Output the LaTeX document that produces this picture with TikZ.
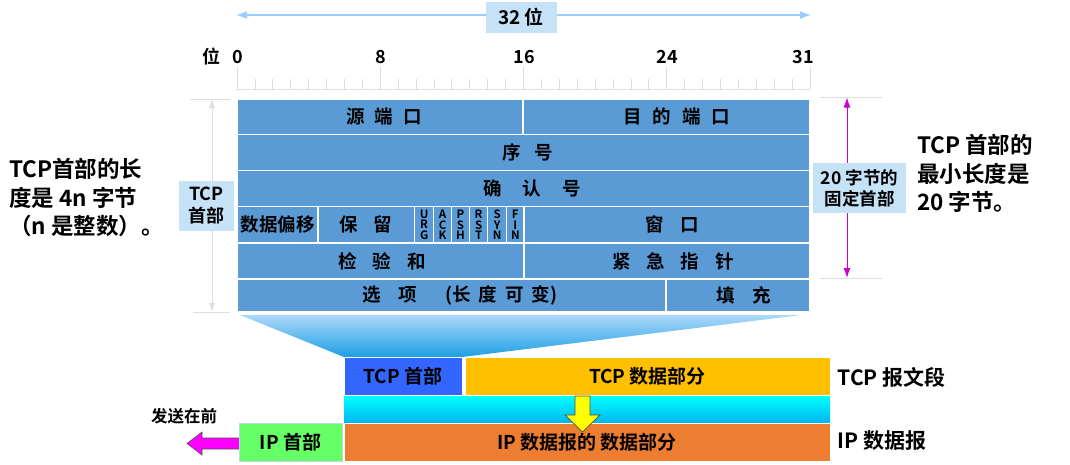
\documentclass[tikz,border=0pt]{standalone}
\usepackage{fontspec}
\setmainfont{Noto Sans CJK SC}[UprightFont={* Bold}]
\usetikzlibrary{arrows.meta}
\definecolor{cell}{RGB}{91,155,213}
\definecolor{lbl}{RGB}{197,226,247}
\definecolor{rul}{RGB}{222,222,222}
\definecolor{arrowblue}{RGB}{153,204,255}
\definecolor{tcph}{RGB}{51,102,255}
\definecolor{tcpd}{RGB}{255,192,0}
\definecolor{ipd}{RGB}{237,125,49}
\definecolor{iph}{RGB}{102,255,102}
\definecolor{mag}{RGB}{204,0,204}
\definecolor{brightmag}{RGB}{255,0,255}
\definecolor{yel}{RGB}{255,255,0}
\definecolor{cytop}{RGB}{0,255,255}
\definecolor{trtop}{RGB}{172,216,250}
\definecolor{trbot}{RGB}{28,160,228}
\definecolor{cybot}{RGB}{0,184,240}
\newcommand{\tg}[1]{\hspace{#1pt}}
\newcommand{\tcell}[5]{\node[cellbox, minimum width={#4-#2}, minimum height={#5-#3}] (#1) at ({(#2+#4)/2},{(#3+#5)/2}) {};}
\newcommand{\flagcell}[4]{\node[cellbox, minimum width={#3-#2}, minimum height=36.5] (#1) at ({(#2+#3)/2},224.75) {};
  \node[flagtxt] (#1t) at ({(#2+#3)/2},224.75) {#4};}
\tikzset{
  cellbox/.style={draw=white, line width=1.2pt, fill=cell, inner sep=0pt, outer sep=0pt},
  ctxt/.style={font=\fontsize{18.5}{20}\selectfont, inner sep=0pt},
  flagtxt/.style={font=\fontsize{11.5}{10.5}\selectfont, align=center, inner sep=0pt},
  lblbox/.style={fill=lbl, inner sep=0pt, align=center},
  rtick/.style={draw=rul, line width=0.8pt},
  seg/.style={draw=white, line width=1pt, inner sep=0pt, outer sep=0pt, font=\fontsize{19}{21}\selectfont},
  big/.style={font=\fontsize{22.5}{28.5}\selectfont, align=left, inner sep=0pt},
}
\begin{document}
\begin{tikzpicture}[x=1pt,y=-1pt]
\useasboundingbox (0,0) rectangle (1070,464);

% ---- 32-bit arrow
\coordinate (tl) at (236,15);
\coordinate (tr) at (811,15);
\draw[arrowblue, line width=1.5pt, {Latex[length=11pt,width=8pt]}-{Latex[length=11pt,width=8pt]}] (tl) -- (tr);
\node[lblbox, minimum width=71, minimum height=31, font=\fontsize{19}{21}\selectfont] (w32) at (521,17.5) {32 位};

% ---- ruler
\draw[rtick] (237,89) -- (810,89);
\foreach \i in {0,...,32}{
  \pgfmathsetmacro{\xx}{237+\i*17.90625}
  \pgfmathtruncatemacro{\mj}{mod(\i,8)==0}
  \ifnum\mj=1 \draw[rtick] (\xx,67) -- (\xx,89); \else \draw[rtick] (\xx,79) -- (\xx,89); \fi
}
\begin{scope}[font=\fontsize{18}{20}\selectfont]
\node (wei) at (211,57) {位};
\node (b0) at (238,57) {0};
\node (b8) at (381,57) {8};
\node (b16) at (524,57) {16};
\node (b24) at (667,57) {24};
\node (b31) at (803,57) {31};
\end{scope}

% ---- extension lines
\draw[rtick] (190,99) -- (230,99);
\draw[rtick] (193,312) -- (230,312);
\draw[rtick] (820,97) -- (882,97);
\draw[rtick] (820,278) -- (882,278);

% ---- left gray arrow
\coordinate (la) at (212,99);
\coordinate (lb) at (212,312);
\draw[rul, line width=1pt, {Latex[length=9pt,width=6pt]}-{Latex[length=9pt,width=6pt]}] (la) -- (lb);
\node[lblbox, minimum width=55, minimum height=50, font=\fontsize{18}{22}\selectfont] (tcphl) at (206.5,206) {TCP\\首部};

% ---- right magenta arrow
\coordinate (ra) at (847,97.5);
\coordinate (rb) at (847,278);
\draw[mag, line width=1pt, {Latex[length=10pt,width=7pt]}-{Latex[length=10pt,width=7pt]}] (ra) -- (rb);
\node[lblbox, minimum width=93, minimum height=50, font=\fontsize{17.5}{21}\selectfont] (fix20) at (859.5,188) {20 字节的\\固定首部};

% ---- side texts
\node[big, anchor=north west] (lefttxt) at (9,158) {TCP首部的长\\度是 4n 字节\\（n 是整数）。};
\node[big, anchor=north west] (righttxt) at (917,134) {TCP 首部的\\最小长度是\\20 字节。};

% ---- table
\tcell{src}{237}{99}{523}{134.5}
\tcell{dst}{523}{99}{810}{134.5}
\tcell{seq}{237}{134.5}{810}{170.5}
\tcell{ack}{237}{170.5}{810}{206.5}
\tcell{off}{237}{206.5}{318}{243}
\tcell{rsv}{318}{206.5}{414.5}{243}
\flagcell{urgf}{414.5}{433.8}{U\\R\\G}
\flagcell{ackf}{433.8}{451.5}{A\\C\\K}
\flagcell{pshf}{451.5}{469.6}{P\\S\\H}
\flagcell{rstf}{469.6}{487.7}{R\\S\\T}
\flagcell{synf}{487.7}{506.6}{S\\Y\\N}
\flagcell{finf}{506.6}{524}{F\\I\\N}
\tcell{win}{524}{206.5}{810}{243}
\tcell{chk}{237}{243}{524}{279}
\tcell{urp}{524}{243}{810}{279}
\tcell{opt}{237}{279}{666}{312}
\tcell{pad}{666}{279}{810}{312}

\node[ctxt] (srct) at (384,116.75) {源\tg{10}端\tg{10}口};
\node[ctxt] (dstt) at (677,116.75) {目\tg{11}的\tg{11}端\tg{11}口};
\node[ctxt] (seqt) at (528,152.5) {序\tg{14}号};
\node[ctxt] (ackt) at (532,188.5) {确\tg{21}认\tg{21}号};
\node[ctxt] (offt) at (277.5,224.75) {数据偏移};
\node[ctxt] (rsvt) at (366,224.75) {保\tg{16}留};
\node[ctxt] (wint) at (672,224.75) {窗\tg{17}口};
\node[ctxt] (chkt) at (382,261) {检\tg{16}验\tg{16}和};
\node[ctxt] (urpt) at (673,261) {紧\tg{16}急\tg{16}指\tg{16}针};
\node[ctxt] (optt) at (460,295.5) {选\tg{18}项\tg{28}(长\tg{8}度\tg{8}可\tg{8}变)};
\node[ctxt] (padt) at (744,295.5) {填\tg{18}充};

% ---- trapezoid
\shade[top color=trtop, bottom color=trbot] (240,315) -- (801,315) -- (462,357) -- (344,357) -- cycle;

% ---- segments
\node[seg, fill=tcph, minimum width=118, minimum height=38] (tcph) at (403,376) {TCP 首部};
\node[seg, fill=tcpd, minimum width=365, minimum height=38] (tcpd) at (647.5,376) {TCP 数据部分};
\shade[top color=cytop, bottom color=cybot] (344,396) rectangle (830,422);
\coordinate (cyan) at (587,409);
\node[seg, fill=ipd, minimum width=486, minimum height=38] (ipd) at (587,442) {IP 数据报的 数据部分};

% magenta arrow (send first)
\coordinate (mtip) at (187,443.5);
\filldraw[fill=brightmag, draw=black!70, line width=0.6pt] (240,438) -- (202,438) -- (202,432) -- (mtip) -- (202,455) -- (202,449) -- (240,449) -- cycle;
\node[seg, fill=iph, draw={rgb,255:red,190;green,215;blue,240}, minimum width=103, minimum height=38] (iph) at (290.5,442) {IP 首部};

% yellow arrow
\coordinate (ytip) at (582.5,432);
\filldraw[fill=yel, draw=black!70, line width=0.7pt] (575,396) -- (590,396) -- (590,415) -- (600,415) -- (ytip) -- (565,415) -- (575,415) -- cycle;

\node[font=\fontsize{16.5}{18}\selectfont] (sendfirst) at (184,416) {发送在前};
\node[anchor=west, font=\fontsize{21}{23}\selectfont] (tcpseg) at (834,377) {TCP 报文段};
\node[anchor=west, font=\fontsize{21}{23}\selectfont] (ipdg) at (834,441) {IP 数据报};
\end{tikzpicture}
\end{document}
